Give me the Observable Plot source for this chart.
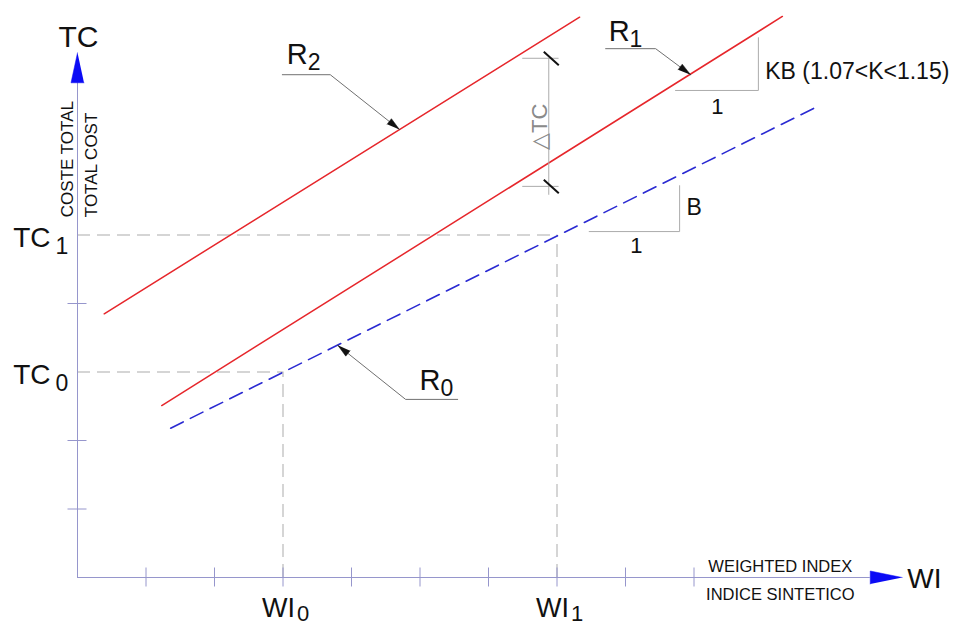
<!DOCTYPE html>
<html><head><meta charset="utf-8">
<script src="https://cdn.jsdelivr.net/npm/d3@7"></script>
<script src="https://cdn.jsdelivr.net/npm/@observablehq/plot@0.6"></script>
<style>html,body{margin:0;padding:0;background:#fff;overflow:hidden}</style>
</head><body><div id="chart"></div>
<script>
// ---------- data (chart units) ----------
const wiTicks = [1, 2, 3, 4, 5, 6, 7, 8, 9];
const tcTicks = [1, 2, 4];
const wiLevels = [3, 7];          // WI0, WI1
const wiSubs = ["0", "1"];
const tcLevels = [3, 5];          // TC0, TC1
const tcSubs = ["0", "1"];
const axisXEnd = 12.04;
const axisYEnd = 7.66;

const lineR0 = [[1.36, 2.18], [10.77, 6.86]];
const lineR1 = [[1.23, 2.51], [10.29, 8.19]];
const lineR2 = [[0.39, 3.85], [7.33, 8.18]];

const rSubs = ["0", "1", "2"];
const rLabelAt = [[5.30, 2.73], [8.06, 7.83], [3.36, 7.50]];
const leaderR0 = [[5.55, 2.60], [4.79, 2.60], [3.80, 3.39]];
const leaderR1 = [[7.71, 7.72], [8.44, 7.72], [8.95, 7.34]];
const leaderR2 = [[2.99, 7.34], [3.69, 7.34], [4.70, 6.54]];

const slopeR1 = [[8.73, 7.11], [9.94, 7.11], [9.94, 7.88]];
const slopeR0 = [[7.47, 5.05], [8.79, 5.05], [8.79, 5.72]];
const runLabels = ["1", "1"];
const runLabelAt = [[9.34, 6.77], [8.16, 4.73]];
const riseLabels = ["KB (1.07<K<1.15)", "B"];
const riseLabelAt = [[10.04, 7.39], [8.89, 5.40]];

const dimX = 6.88, dimTop = 7.58, dimBottom = 5.71, dimLow = 5.58, dimExtL = 6.50, dimExtR = 7.03;
const dimLabel = "△TC";
const dimLabelAt = [6.86, 6.58];

const yTitles = ["COSTE TOTAL", "TOTAL COST"];
const yTitleAt = [[-0.07, 5.26], [0.29, 5.26]];
const xTitles = ["WEIGHTED INDEX", "INDICE SINTETICO"];
const xTitleX = 10.26;

// ---------- layout ----------
const u = 68.5, ox = 77, oy = 577, W = 955, H = 625;
const RED = "#e6262b", BLUE = "#2a2ad2", ARROW = "#0b0bf5", AXIS = "#9696cc", GRID = "#ababab", FONT = "Liberation Sans, Arial, sans-serif";

function head(tip, from, lenPx, halfPx, id) {
  const dx = tip[0] - from[0], dy = tip[1] - from[1], L = Math.hypot(dx, dy);
  const ux = dx / L, uy = dy / L, len = lenPx / u, half = halfPx / u;
  const bx = tip[0] - ux * len, by = tip[1] - uy * len;
  return [{id, x: tip[0], y: tip[1]}, {id, x: bx - uy * half, y: by + ux * half}, {id, x: bx + uy * half, y: by - ux * half}];
}
const leaderHeads = [leaderR0, leaderR1, leaderR2].flatMap((p, i) => head(p[2], p[1], 13, 3.5, "h" + i));
const axisHeads = [...head([axisXEnd, 0], [0, 0], 32, 6.5, "ax"), ...head([0, axisYEnd], [0, 0], 30, 6.5, "ay")];
const slash = {draw(ctx) { ctx.moveTo(-7, -6.5); ctx.lineTo(8, 7); }};
const px = d => d[0], py = d => d[1];

const chart = Plot.plot({
  width: W, height: H,
  marginTop: 0, marginRight: 0, marginBottom: 0, marginLeft: 0,
  x: {domain: [-ox / u, (W - ox) / u], axis: null},
  y: {domain: [(oy - H) / u, oy / u], axis: null},
  style: {fontFamily: FONT, background: "#fff", color: "#111", overflow: "visible"},
  marks: [
    // dashed reference lines
    Plot.ruleY(tcLevels, {y: d => d, x1: 0, x2: (d, i) => wiLevels[i], stroke: GRID, strokeDasharray: "13,7"}),
    Plot.ruleX(wiLevels, {x: d => d, y1: 0, y2: (d, i) => tcLevels[i], stroke: GRID, strokeDasharray: "13,7"}),
    // axes
    Plot.ruleY([0], {x1: 0, x2: axisXEnd - 32 / u, stroke: AXIS}),
    Plot.ruleX([0], {y1: 0, y2: axisYEnd - 30 / u, stroke: AXIS}),
    Plot.ruleX(wiTicks, {x: d => d, y1: 0, y2: 0, insetTop: -9.5, insetBottom: -9.5, stroke: AXIS}),
    Plot.ruleY(tcTicks, {y: d => d, x1: 0, x2: 0, insetLeft: -9.5, insetRight: -9.5, stroke: AXIS}),
    Plot.line(axisHeads, {x: "x", y: "y", z: "id", fill: ARROW, stroke: ARROW, strokeWidth: 0.5}),
    // cost lines
    Plot.line(lineR0, {x: px, y: py, stroke: BLUE, strokeWidth: 1.6, strokeDasharray: "14,8"}),
    Plot.line(lineR1, {x: px, y: py, stroke: RED, strokeWidth: 1.5}),
    Plot.line(lineR2, {x: px, y: py, stroke: RED, strokeWidth: 1.5}),
    // slope triangles
    Plot.line(slopeR1, {x: px, y: py, stroke: GRID, strokeWidth: 1}),
    Plot.line(slopeR0, {x: px, y: py, stroke: GRID, strokeWidth: 1}),
    Plot.text(runLabels, {x: (d, i) => runLabelAt[i][0], y: (d, i) => runLabelAt[i][1], text: d => d,
      textAnchor: "middle", lineAnchor: "bottom", fontSize: 22, fill: "#111"}),
    Plot.text(riseLabels, {x: (d, i) => riseLabelAt[i][0], y: (d, i) => riseLabelAt[i][1], text: d => d,
      textAnchor: "start", lineAnchor: "middle", fontSize: 23, fill: "#111"}),
    // delta TC dimension
    Plot.ruleX([dimX], {x: d => d, y1: dimLow, y2: dimTop, stroke: GRID}),
    Plot.ruleY([dimTop, dimBottom], {y: d => d, x1: dimExtL, x2: dimExtR, stroke: GRID}),
    Plot.dot([dimTop, dimBottom], {x: dimX + 2 / u, y: d => d, symbol: slash, stroke: "#111", strokeWidth: 2, fill: "none"}),
    Plot.text([dimLabel], {x: dimLabelAt[0], y: dimLabelAt[1], text: d => d, rotate: -90, textAnchor: "middle", lineAnchor: "bottom", fontSize: 22, fill: "#8a8a8a"}),
    // leaders
    Plot.line(leaderR0, {x: px, y: py, stroke: "#707070", strokeWidth: 1}),
    Plot.line(leaderR1, {x: px, y: py, stroke: "#707070", strokeWidth: 1}),
    Plot.line(leaderR2, {x: px, y: py, stroke: "#707070", strokeWidth: 1}),
    Plot.line(leaderHeads, {x: "x", y: "y", z: "id", fill: "#111", stroke: "#111", strokeWidth: 0.5}),
    Plot.text(rSubs, {x: (d, i) => rLabelAt[i][0], y: (d, i) => rLabelAt[i][1], text: () => "R", textAnchor: "end", lineAnchor: "bottom", fontSize: 29, fill: "#111"}),
    Plot.text(rSubs, {x: (d, i) => rLabelAt[i][0], y: (d, i) => rLabelAt[i][1], text: d => d, textAnchor: "start", lineAnchor: "bottom", dy: 6, fontSize: 23, fill: "#111"}),
    // level labels
    Plot.text(tcLevels, {x: 0, y: d => d, text: () => "TC", textAnchor: "end", lineAnchor: "bottom", dx: -27, dy: 12, fontSize: 28, fill: "#111"}),
    Plot.text(tcLevels, {x: 0, y: d => d, text: (d, i) => tcSubs[i], textAnchor: "start", lineAnchor: "bottom", dx: -22, dy: 19, fontSize: 23, fill: "#111"}),
    Plot.text(wiLevels, {x: d => d, y: 0, text: () => "WI", textAnchor: "end", lineAnchor: "bottom", dx: 12, dy: 39, fontSize: 27, fill: "#111"}),
    Plot.text(wiLevels, {x: d => d, y: 0, text: (d, i) => wiSubs[i], textAnchor: "start", lineAnchor: "bottom", dx: 14, dy: 43, fontSize: 22, fill: "#111"}),
    // axis titles
    Plot.text(["TC"], {x: 0, y: axisYEnd, text: d => d, textAnchor: "middle", lineAnchor: "bottom", dx: 1, dy: -6, fontSize: 30, fill: "#111"}),
    Plot.text(["WI"], {x: axisXEnd, y: 0, text: d => d, textAnchor: "start", lineAnchor: "bottom", dx: 5, dy: 10, fontSize: 28, fill: "#111"}),
    Plot.text(yTitles, {x: (d, i) => yTitleAt[i][0], y: (d, i) => yTitleAt[i][1], text: d => d, rotate: -90, textAnchor: "start", lineAnchor: "bottom", fontSize: 17, fill: "#111"}),
    Plot.text([xTitles[0]], {x: xTitleX, y: 0, text: d => d, textAnchor: "middle", lineAnchor: "bottom", dy: -6, fontSize: 16.5, fill: "#111"}),
    Plot.text([xTitles[1]], {x: xTitleX, y: 0, text: d => d, textAnchor: "middle", lineAnchor: "bottom", dy: 22, fontSize: 16.5, fill: "#111"})
  ]
});
document.getElementById("chart").appendChild(chart);
</script>
</body></html>
